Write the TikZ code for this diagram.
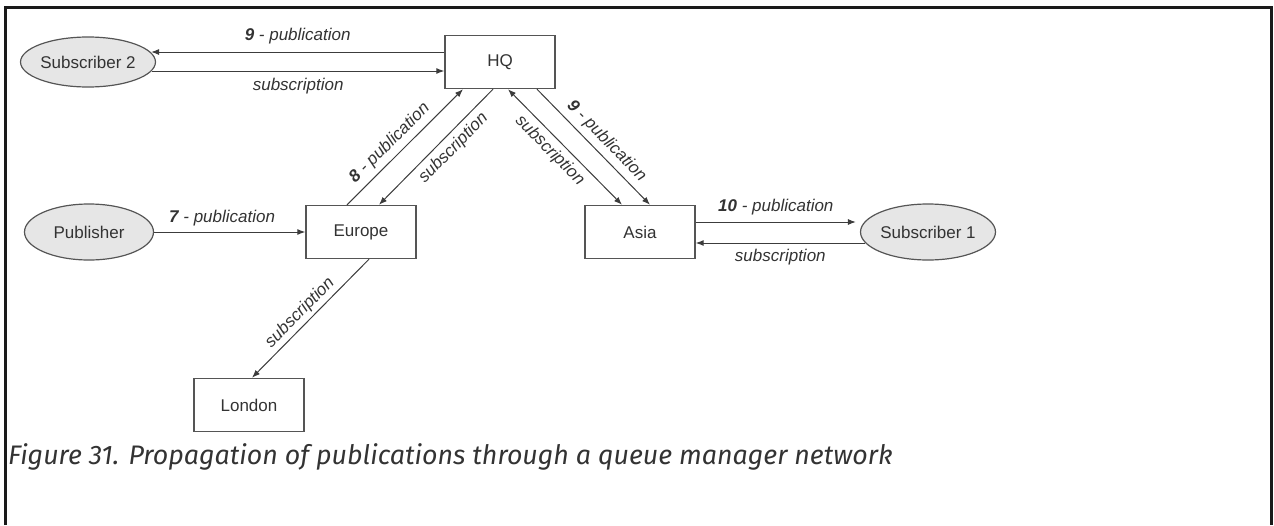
\documentclass[tikz,border=0pt]{standalone}
\usepackage{fontspec}
\setmainfont{Liberation Sans}
\newfontfamily\captionfont{Fira Sans}
\usetikzlibrary{arrows.meta,positioning,shapes.geometric}
\definecolor{QmInk}{HTML}{333333}
\definecolor{QmLine}{HTML}{3C3C3C}
\definecolor{QmBorder}{HTML}{555555}
\definecolor{QmFill}{HTML}{E6E6E6}
\definecolor{QmFrame}{HTML}{1A1A1A}

\begin{document}
\begin{tikzpicture}[x=1pt, y=-1pt,
    flow/.style={-{Latex[length=8pt,width=6pt]}, line width=1pt, draw=QmLine},
    backflow/.style={{Latex[length=8pt,width=6pt]}-, line width=1pt, draw=QmLine},
    twoflow/.style={{Latex[length=8pt,width=6pt]}-{Latex[length=8pt,width=6pt]}, line width=1pt, draw=QmLine},
    qmgr/.style={draw=QmBorder, line width=1.4pt, minimum width=110pt,
      minimum height=53pt, inner sep=0pt, text=QmInk, font=\fontsize{17}{20}\selectfont},
    client/.style={ellipse, draw=QmBorder, line width=1.2pt, fill=QmFill,
      minimum width=129pt, minimum height=50pt, inner sep=0pt, text=QmInk,
      font=\fontsize{17}{20}\selectfont},
    lbl/.style={font=\fontsize{17}{20}\selectfont\itshape, text=QmInk, inner sep=3pt}
  ]
    \useasboundingbox (0,0) rectangle (1274,525);
    \draw[line width=2.6pt, QmFrame] (5.5,525) -- (5.5,7.5) -- (1271.5,7.5) -- (1271.5,525);

    \node[qmgr] (hq) at (500,62) {HQ};
    \node[qmgr] (europe) at (361,232) {Europe};
    \node[qmgr] (asia) at (640,232) {Asia};
    \node[qmgr] (london) at (249,405) {London};
    \node[client] (sub2) at (88,62) {Subscriber 2};
    \node[client, minimum height=56pt] (publisher) at (89,232) {Publisher};
    \node[client, minimum width=130pt, minimum height=56pt] (sub1) at (928,232) {Subscriber 1};

    \draw[flow] ([yshift=10pt]hq.west) -- ([yshift=10pt, xshift=-5pt]sub2.east)
      node[lbl, midway, above=4pt] {\textbf{9} - publication};
    \draw[flow] ([yshift=-9pt, xshift=-4pt]sub2.east) -- ([yshift=-9pt]hq.west)
      node[lbl, midway, below=4pt] {subscription};
    \draw[flow] (publisher.east) -- (europe.west)
      node[lbl, pos=0.45, above=2pt] {\textbf{7} - publication};
    \draw[flow] ([yshift=10pt]asia.east) -- ([yshift=10pt, xshift=-4pt]sub1.east -| sub1.west)
      node[lbl, midway, above=3pt] {\textbf{10} - publication};
    \draw[backflow] ([yshift=-11pt]asia.east) -- ([yshift=-11pt, xshift=5pt]sub1.west)
      node[lbl, midway, below=3pt] {subscription};

    \draw[flow] ([xshift=-14pt]europe.north) -- ([xshift=-37pt]hq.south)
      node[lbl, sloped, pos=0.45, above=2pt] {\textbf{8} - publication};
    \draw[backflow] ([xshift=18pt]europe.north) -- ([xshift=-7pt]hq.south)
      node[lbl, sloped, pos=0.57, below=2pt] {subscription};
    \draw[twoflow] ([xshift=8pt]hq.south) -- ([xshift=-18pt]asia.north)
      node[lbl, sloped, pos=0.45, below=2pt] {subscription};
    \draw[flow] ([xshift=37pt]hq.south) -- ([xshift=10pt]asia.north)
      node[lbl, sloped, pos=0.53, above=2pt] {\textbf{9} - publication};
    \draw[backflow] ([xshift=3pt]london.north) -- ([xshift=8pt]europe.south)
      node[lbl, sloped, pos=0.48, above=0pt] {subscription};

    \node[anchor=west, inner sep=0pt, text=QmInk,
      font=\captionfont\fontsize{26.8}{30}\selectfont\itshape] (caption) at (8,457)
      {Figure 31. Propagation of publications through a queue manager network};
  \end{tikzpicture}
\end{document}
